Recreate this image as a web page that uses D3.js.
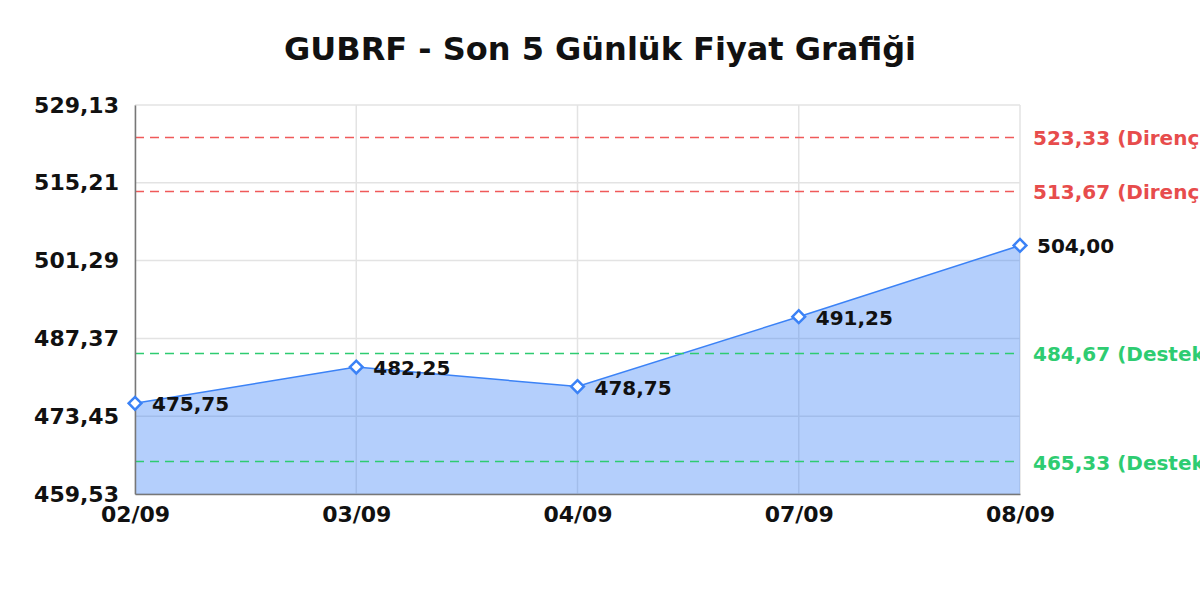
<!DOCTYPE html>
<html>
<head>
<meta charset="utf-8">
<script src="https://cdn.jsdelivr.net/npm/d3@7"></script>
<style>
  body { margin: 0; background: #fff; }
  svg { font-family: "DejaVu Sans", sans-serif; }
  .axis .domain { stroke: #777; stroke-width: 1.5; }
  .axis line { display: none; }
  .axis text { font-size: 22px; font-weight: bold; fill: #111; }
</style>
</head>
<body>
<div id="chart"></div>
<script>
const title = 'GUBRF - Son 5 Günlük Fiyat Grafiği';
const dates = ['02/09', '03/09', '04/09', '07/09', '08/09'];
const prices = [475.75, 482.25, 478.75, 491.25, 504.00];
const yTicks = [459.53, 473.45, 487.37, 501.29, 515.21, 529.13];
const resistance = [523.33, 513.67];
const support = [484.67, 465.33];

const width = 1200, height = 600;
const margin = { top: 105, right: 180, bottom: 106, left: 135 };
const w = width - margin.left - margin.right;
const h = height - margin.top - margin.bottom;

const fmt = v => v.toFixed(2).replace('.', ',');

const svg = d3.select('#chart').append('svg')
    .attr('width', width)
    .attr('height', height);

svg.append('text')
    .attr('x', width / 2)
    .attr('y', 60)
    .attr('text-anchor', 'middle')
    .attr('font-size', 32)
    .attr('font-weight', 'bold')
    .attr('fill', '#111')
    .text(title);

const g = svg.append('g')
    .attr('transform', `translate(${margin.left},${margin.top})`);

const xScale = d3.scalePoint().domain(dates).range([0, w]);
const yScale = d3.scaleLinear().domain([yTicks[0], yTicks[yTicks.length - 1]]).range([h, 0]);

// grid
g.selectAll('.hgrid')
    .data(yTicks)
    .enter()
    .append('line')
    .attr('x1', 0).attr('x2', w)
    .attr('y1', d => yScale(d)).attr('y2', d => yScale(d))
    .attr('stroke', '#e3e3e3').attr('stroke-width', 1.5);

g.selectAll('.vgrid')
    .data(dates)
    .enter()
    .append('line')
    .attr('x1', d => xScale(d)).attr('x2', d => xScale(d))
    .attr('y1', 0).attr('y2', h)
    .attr('stroke', '#e3e3e3').attr('stroke-width', 1.5);

// area + line
const pts = dates.map((d, i) => ({ date: d, value: prices[i] }));

const area = d3.area()
    .x(d => xScale(d.date))
    .y0(h)
    .y1(d => yScale(d.value));

g.append('path')
    .datum(pts)
    .attr('d', area)
    .attr('fill', 'rgba(59,130,246,0.38)');

const line = d3.line()
    .x(d => xScale(d.date))
    .y(d => yScale(d.value));

g.append('path')
    .datum(pts)
    .attr('d', line)
    .attr('fill', 'none')
    .attr('stroke', '#3b82f6')
    .attr('stroke-width', 1.5);

// support / resistance lines
const levels = resistance.map(v => ({ v, label: 'Direnç', color: '#f05a5a', text: '#e74c4c' }))
    .concat(support.map(v => ({ v, label: 'Destek', color: '#2ecc71', text: '#2ecc71' })));

g.selectAll('.level')
    .data(levels)
    .enter()
    .append('line')
    .attr('x1', 0).attr('x2', w)
    .attr('y1', d => yScale(d.v)).attr('y2', d => yScale(d.v))
    .attr('stroke', d => d.color)
    .attr('stroke-width', 1.5)
    .attr('stroke-dasharray', '9,6');

g.selectAll('.level-label')
    .data(levels)
    .enter()
    .append('text')
    .attr('x', w + 13)
    .attr('y', d => yScale(d.v) + 8)
    .attr('font-size', 20)
    .attr('font-weight', 'bold')
    .attr('fill', d => d.text)
    .text(d => `${fmt(d.v)} (${d.label})`);

// axes
g.append('g')
    .attr('class', 'axis x-axis')
    .attr('transform', `translate(0,${h})`)
    .attr('font-family', null)
    .call(d3.axisBottom(xScale).tickSize(0).tickPadding(12))
    .attr('font-family', '"DejaVu Sans", sans-serif');

g.append('g')
    .attr('class', 'axis y-axis')
    .call(d3.axisLeft(yScale).tickValues(yTicks).tickFormat(fmt).tickSize(0).tickPadding(16))
    .attr('font-family', '"DejaVu Sans", sans-serif');

// markers
g.selectAll('.marker')
    .data(pts)
    .enter()
    .append('rect')
    .attr('x', -4.5).attr('y', -4.5)
    .attr('width', 9).attr('height', 9)
    .attr('transform', d => `translate(${xScale(d.date)},${yScale(d.value)}) rotate(45)`)
    .attr('fill', '#fff')
    .attr('stroke', '#3b82f6')
    .attr('stroke-width', 2.5);

g.selectAll('.point-label')
    .data(pts)
    .enter()
    .append('text')
    .attr('x', d => xScale(d.date) + 17)
    .attr('y', d => yScale(d.value) + 8)
    .attr('font-size', 20)
    .attr('font-weight', 'bold')
    .attr('fill', '#111')
    .text(d => fmt(d.value));
</script>
</body>
</html>
